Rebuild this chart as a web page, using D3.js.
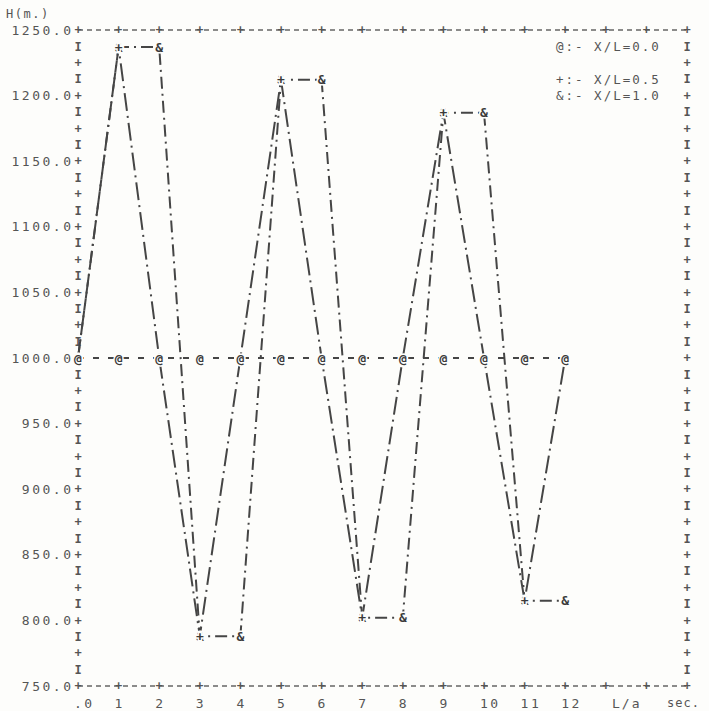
<!DOCTYPE html>
<html><head><meta charset="utf-8">
<script src="https://cdn.jsdelivr.net/npm/d3@7"></script>
<style>
body{margin:0;background:#fdfdfb}
text{font-family:"DejaVu Sans Mono","Liberation Mono",monospace;fill:#555}
</style>
</head><body><svg id="c" width="709" height="711"></svg>
<script>
// ---- data ----
const times = [0,1,2,3,4,5,6,7,8,9,10,11,12];
const h00 = [1000,1000,1000,1000,1000,1000,1000,1000,1000,1000,1000,1000,1000];
const h05 = [1000,1237,1000,788,1000,1212,1000,802,1000,1187,1000,815,1000];
const h10 = [1000,1237,1237,788,788,1212,1212,802,802,1187,1187,815,815];
const seriesLabels = ["X/L=0.0","X/L=0.5","X/L=1.0"];
const seriesSymbols = ["@","+","&"];
const yTicks = [750,800,850,900,950,1000,1050,1100,1150,1200,1250];
const xTicks = [0,1,2,3,4,5,6,7,8,9,10,11,12];
const yTitle = "H(m.)";
const xTitle = ["L/a","sec."];

const svg = d3.select("#c");
const x = d3.scaleLinear().domain([0,15]).range([78,687]);
const y = d3.scaleLinear().domain([750,1250]).range([686,30]);
const ink = "#454545";
const LS = 2.5; // letter spacing

// frame top and bottom dashed lines
[750,1250].forEach(v=>{
  svg.append("line").attr("x1",x(0)).attr("x2",x(15)).attr("y1",y(v)).attr("y2",y(v))
    .attr("stroke","#666").attr("stroke-width",1.4).attr("stroke-dasharray","5,4");
});
const allX = d3.range(0,16);
["top","bot"].forEach(k=>{
  const yy = k==="top"? y(1250) : y(750);
  svg.append("g").selectAll("text").data(allX).join("text")
    .attr("x",d=>x(d)).attr("y",yy).attr("dy","0.35em").attr("text-anchor","middle")
    .attr("font-size",12).attr("font-weight","bold").text("+");
});

// left and right axis characters
const minor = d3.range(750,1250.1,12.5);
function axisChars(xp){
  svg.append("g").selectAll("text").data(minor.filter(v=>!(v===750||v===1250))).join("text")
    .attr("x",xp).attr("y",d=>y(d)).attr("dy","0.35em").attr("text-anchor","middle")
    .attr("font-size",12).attr("font-weight","bold")
    .text(d=> (d%25===0) ? "+" : "I");
}
axisChars(x(0)); axisChars(x(15));

// y tick labels via d3 axis
const ya = svg.append("g").attr("transform",`translate(${x(0)-7+LS},0)`)
  .call(d3.axisLeft(y).tickValues(yTicks).tickSize(0).tickPadding(0).tickFormat(d3.format(".1f")));
ya.select(".domain").remove();
ya.selectAll("text").attr("font-size",13).attr("letter-spacing",LS)
  .style("font-family",'"DejaVu Sans Mono",monospace').attr("fill","#555");

// x tick labels
svg.append("g").selectAll("text").data(xTicks).join("text")
  .attr("x",d=>x(d)-4).attr("y",703).attr("dy","0.35em")
  .attr("font-size",13).attr("letter-spacing",LS)
  .text(d=> d===0 ? ".0" : String(d));
svg.append("text").attr("x",612).attr("y",703).attr("dy","0.35em")
  .attr("font-size",13).attr("letter-spacing",2).text(xTitle[0]);
svg.append("text").attr("x",667).attr("y",703).attr("dy","0.35em")
  .attr("font-size",12).attr("letter-spacing",1).text(xTitle[1]);

// y title
svg.append("text").attr("x",6).attr("y",14).attr("dy","0.35em")
  .attr("font-size",12).attr("letter-spacing",1.5).text(yTitle);

// legend rows on right-axis character rows
const legendRows = [1237.5,1212.5,1200];
svg.append("g").selectAll("text").data(seriesLabels).join("text")
  .attr("x",556).attr("y",(d,i)=>y(legendRows[i])).attr("dy","0.35em")
  .attr("font-size",12.5).attr("letter-spacing",2)
  .text((d,i)=>seriesSymbols[i]+":- "+d);

// series
const series = [
  {vals:h10, dash:"12,5,2,5"},
  {vals:h05, dash:"18,5,2,5"},
  {vals:h00, dash:"6,9"}
];
const line = d3.line().x(d=>x(d[0])).y(d=>y(d[1]));
series.forEach(s=>{
  svg.append("path").datum(times.map((t,i)=>[t,s.vals[i]]))
    .attr("d",line).attr("fill","none").attr("stroke",ink)
    .attr("stroke-width",2).attr("stroke-dasharray",s.dash);
});
// markers (later series on top)
const markerOrder = [{vals:h10,sym:"&"},{vals:h05,sym:"+"},{vals:h00,sym:"@"}];
markerOrder.forEach(m=>{
  svg.append("g").selectAll("text").data(times.map((t,i)=>[t,m.vals[i]])).join("text")
    .attr("x",d=>x(d[0])).attr("y",d=>y(d[1])).attr("dy","0.35em").attr("text-anchor","middle")
    .attr("font-size",13).attr("font-weight","bold").style("fill","#3a3a3a")
    .attr("stroke","#fdfdfb").attr("stroke-width",3).attr("paint-order","stroke")
    .text(m.sym);
});
</script></body></html>
